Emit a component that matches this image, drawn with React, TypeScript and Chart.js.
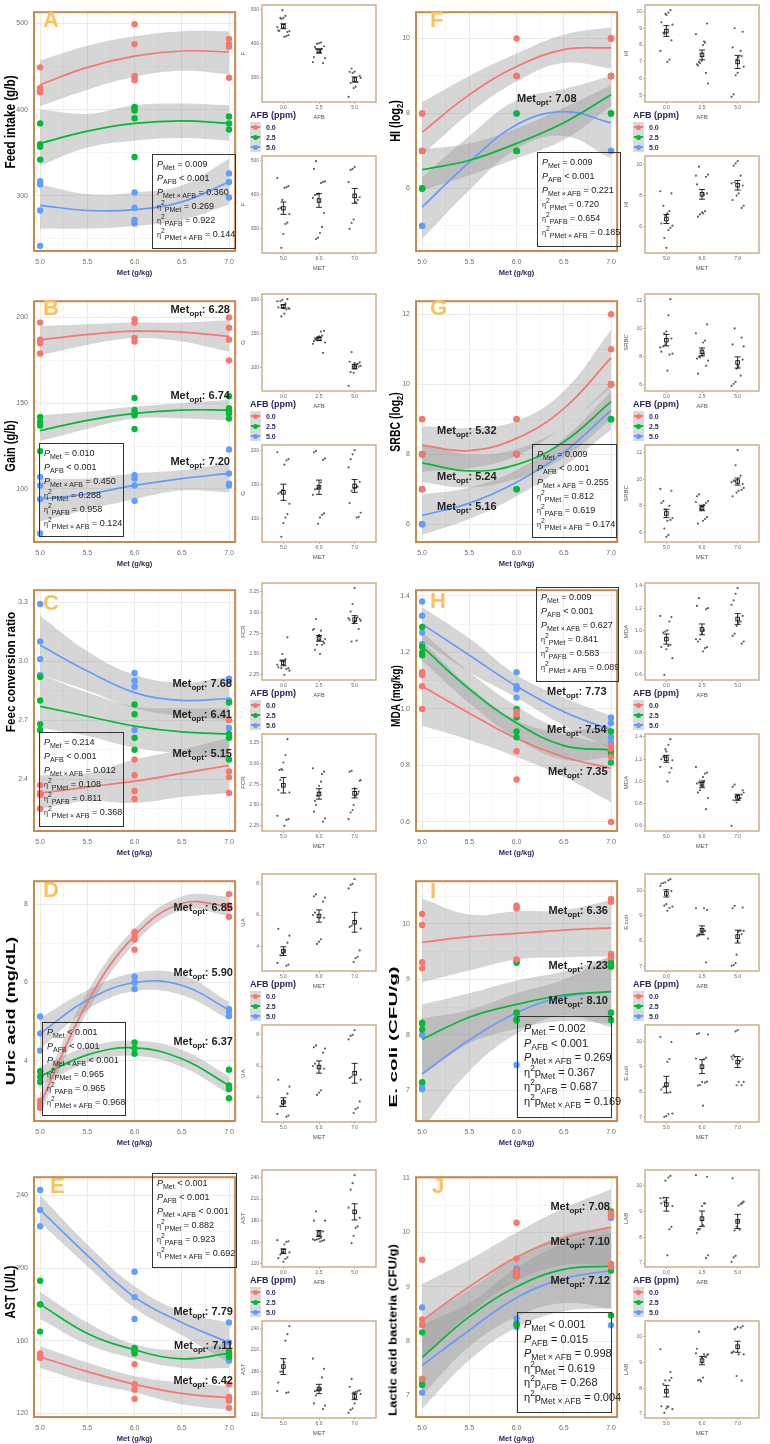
import React, { useEffect, useLayoutEffect, useRef, useState } from 'react';
import { Chart, registerables } from 'chart.js';
Chart.register(...registerables);

const FONT = '"Liberation Sans", Arial, Helvetica, sans-serif';
const COLORS = ['#F8766D', '#00BA38', '#619CFF'];
const BAND = 'rgba(153,153,153,0.4)';
const FRAME = '#C58A4C';
const SIDE_FRAME = '#CDB08A';
const NAVY = '#2A2860';
const TICK_C = '#707070';
const GRID_MAJ = '#EAEAEA';
const GRID_MIN = '#F5F5F5';
const LETTER_C = '#F9C25C';

const MET = [5, 6, 7];
const MET_LABELS = ['5.0', '6.0', '7.0'];
const AFB_LEVELS = ['0.0', '2.5', '5.0'];
const CURVE_X = [5, 5.5, 6, 6.5, 7];
const X_MAJOR = [5, 5.5, 6, 6.5, 7];
const X_ALL = [5, 5.25, 5.5, 5.75, 6, 6.25, 6.5, 6.75, 7];

// ---------- A: Feed intake ----------
const A_PTS = [
  [[449, 425, 422, 420], [499, 476, 439, 437, 434], [482, 476, 473, 437]],
  [[384, 360, 357, 342], [403, 401, 399, 390, 345], [392, 384, 377]],
  [[317, 313, 283, 242], [304, 286, 272, 268], [326, 316, 298]],
];
const A_FIT = [[429, 449, 462, 468, 467], [361, 375, 384, 387, 384], [289, 283, 284, 293, 316]];
const A_HI = [[457, 474, 485, 491, 491], [400, 395, 405, 407, 405], [313, 302, 304, 312, 343]];
const A_LO = [[404, 423, 438, 445, 441], [335, 356, 364, 367, 364], [262, 262, 265, 272, 290]];
const A_YTICKS = [300, 400, 500];
const A_STATS = ['= 0.009', '< 0.001', '= 0.360', '= 0.269', '= 0.922', '= 0.144'];

// ---------- B: Gain ----------
const B_PTS = [
  [[197, 187, 185, 179], [199, 197, 188, 186], [200, 194, 187, 175]],
  [[142, 139, 137, 122], [153, 146, 144, 143, 135], [154, 147, 145, 144, 141]],
  [[107, 102, 94, 74], [108, 106, 102, 93], [123, 109, 103, 102]],
];
const B_FIT = [[187, 190, 192, 191.5, 189], [134, 140, 144, 146, 146], [94, 97, 102, 106, 109]];
const B_HI = [[195, 196, 197, 197, 198.5], [143, 145, 148, 150, 152], [106, 106, 109, 111, 115]];
const B_LO = [[178, 184, 188, 186, 180], [128, 135, 141, 141, 140], [81, 88, 94, 99, 98]];
const B_YTICKS = [100, 150, 200];
const B_STATS = ['= 0.010', '< 0.001', '= 0.450', '= 0.288', '= 0.958', '= 0.124'];

// ---------- C: Feed conversion ratio ----------
const C_PTS = [
  [[2.37, 2.33, 2.32, 2.25], [2.5, 2.42, 2.34, 2.3], [2.7, 2.44, 2.41, 2.33]],
  [[2.92, 2.8, 2.68, 2.65], [2.78, 2.73, 2.61, 2.55], [2.79, 2.63, 2.61, 2.5]],
  [[3.29, 3.1, 3.01, 2.93, 2.92], [2.94, 2.9, 2.87, 2.65], [2.91, 2.9, 2.8, 2.66]],
];
const C_FIT = [[2.33, 2.36, 2.39, 2.43, 2.47], [2.77, 2.72, 2.67, 2.64, 2.63], [3.08, 2.95, 2.84, 2.8, 2.81]];
const C_HI = [[2.42, 2.43, 2.5, 2.55, 2.61], [2.93, 2.84, 2.77, 2.76, 2.76], [3.23, 3.05, 2.93, 2.89, 2.92]];
const C_LO = [[2.25, 2.29, 2.28, 2.31, 2.33], [2.66, 2.62, 2.56, 2.53, 2.5], [2.93, 2.85, 2.76, 2.72, 2.7]];
const C_YTICKS = [2.4, 2.7, 3.0, 3.3];
const C_STATS = ['= 0.214', '< 0.001', '= 0.012', '= 0.108', '= 0.811', '= 0.368'];

// ---------- D: Uric acid ----------
const D_PTS = [
  [[2.98, 2.88, 2.8], [7.3, 7.18, 7.1, 6.84], [8.26, 7.97, 7.9, 7.68]],
  [[3.73, 3.59, 3.46], [4.47, 4.32, 4.18], [3.77, 3.37, 3.28, 3.04]],
  [[5.13, 4.7, 4.26], [6.15, 6.0, 5.83], [5.32, 5.25, 5.14]],
];
const D_FIT = [[2.88, 5.49, 7.2, 8.02, 7.95], [3.6, 4.15, 4.33, 4.05, 3.37], [4.7, 5.55, 6.0, 5.93, 5.3]];
const D_HI = [[3.15, 5.75, 7.38, 8.2, 8.2], [3.85, 4.35, 4.51, 4.28, 3.6], [5.09, 5.8, 6.25, 6.2, 5.5]];
const D_LO = [[2.62, 5.25, 7.0, 7.85, 7.7], [3.36, 3.95, 4.12, 3.84, 3.15], [4.31, 5.3, 5.78, 5.68, 5.05]];
const D_YTICKS = [4, 6, 8];
const D_STATS = ['< 0.001', '< 0.001', '< 0.001', '= 0.965', '= 0.965', '= 0.968'];

// ---------- E: AST ----------
const E_PTS = [
  [[153, 151.5, 150.5], [147, 136, 133, 128], [136, 129, 127, 123]],
  [[193, 180, 180, 165], [156, 155, 154, 153], [154, 153, 152, 151]],
  [[243, 232, 223], [198, 184, 172], [170, 159, 149]],
];
const E_FIT = [[151, 143, 136, 131, 128.5], [180, 164, 155, 150, 153], [232, 207, 184, 170, 159]];
const E_HI = [[157, 148, 140.5, 137, 135], [187, 170, 158, 155, 159], [240, 213, 190, 176, 170]];
const E_LO = [[145, 137, 131.5, 125, 122], [172, 158, 150, 145, 145], [225, 201, 178, 163, 148]];
const E_YTICKS = [120, 160, 200, 240];
const E_STATS = ['< 0.001', '< 0.001', '< 0.001', '= 0.882', '= 0.923', '= 0.692'];

// ---------- F: HI ----------
const F_PTS = [
  [[8, 8, 7, 7], [10, 9, 9, 9], [10, 10, 10, 9]],
  [[7, 7, 6, 6], [8, 7, 7, 7], [9, 9, 8, 8]],
  [[6, 6, 5, 5], [9, 8, 7, 7], [9, 8, 7, 7]],
];
const F_FIT = [[7.5, 8.5, 9.25, 9.7, 9.75], [6.5, 6.75, 7.2, 7.75, 8.5], [5.5, 6.7, 7.7, 8.05, 7.75]];
const F_HI = [[8.3, 9.0, 9.6, 10.1, 10.3], [7.05, 7.2, 7.6, 8.15, 8.75], [6.3, 7.4, 8.35, 8.65, 9.0]];
const F_LO = [[6.9, 8.0, 8.85, 9.35, 9.2], [5.95, 6.35, 6.8, 7.3, 8.2], [4.65, 5.95, 7.05, 7.4, 6.8]];
const F_YTICKS = [6, 8, 10];
const F_STATS = ['= 0.009', '< 0.001', '= 0.221', '= 0.720', '= 0.654', '= 0.185'];

// ---------- G: SRBC ----------
const G_PTS = [
  [[9, 9, 8, 7], [9, 9, 8, 8], [12, 11, 10, 10]],
  [[8, 8, 8, 7], [8, 8, 8, 7], [10, 10, 9, 9]],
  [[7, 6, 6, 6], [8, 7, 7, 7], [10, 9, 9, 9]],
];
const G_FIT = [[8.25, 8.1, 8.45, 9.3, 10.75], [7.75, 7.52, 7.7, 8.35, 9.5], [6.25, 6.6, 7.2, 8.05, 9.25]];
const G_HI = [[8.8, 8.75, 8.95, 9.8, 11.55], [8.3, 8.0, 8.15, 8.8, 10.0], [6.85, 7.05, 7.55, 8.45, 9.8]];
const G_LO = [[7.5, 7.6, 7.95, 8.8, 9.9], [7.2, 7.05, 7.3, 7.9, 9.0], [5.7, 6.15, 6.8, 7.65, 8.7]];
const G_YTICKS = [6, 8, 10, 12];
const G_STATS = ['= 0.009', '< 0.001', '= 0.255', '= 0.812', '= 0.619', '= 0.174'];

// ---------- H: MDA ----------
const H_PTS = [
  [[1.13, 1.12, 1.08, 1.0], [0.99, 0.98, 0.85, 0.75], [0.87, 0.86, 0.83, 0.6]],
  [[1.29, 1.22, 1.2, 1.19], [1.0, 0.97, 0.92, 0.9], [0.92, 0.85, 0.84, 0.81]],
  [[1.38, 1.33, 1.27, 1.23], [1.13, 1.08, 1.07, 1.04], [0.97, 0.95, 0.9, 0.88]],
];
const H_FIT = [[1.08, 0.985, 0.895, 0.83, 0.79], [1.22, 1.07, 0.95, 0.87, 0.855], [1.3, 1.19, 1.08, 0.99, 0.925]];
const H_HI = [[1.24, 1.08, 0.96, 0.91, 0.87], [1.27, 1.13, 1.01, 0.93, 0.94], [1.36, 1.25, 1.12, 1.04, 0.975]];
const H_LO = [[0.94, 0.89, 0.83, 0.76, 0.67], [1.17, 1.02, 0.895, 0.82, 0.83], [1.24, 1.13, 1.04, 0.94, 0.86]];
const H_YTICKS = [0.6, 0.8, 1.0, 1.2, 1.4];
const H_STATS = ['= 0.009', '< 0.001', '= 0.627', '= 0.841', '= 0.583', '= 0.089'];

// ---------- I: E. coli ----------
const I_PTS = [
  [[10.18, 9.98, 9.31, 9.2], [10.33, 10.3, 10.28, 9.36], [10.45, 10.4, 9.46, 9.4]],
  [[8.22, 8.2, 8.1, 7.15], [9.3, 8.4, 8.28, 8.26], [9.3, 9.23, 8.4, 8.27]],
  [[8.0, 7.13, 7.05, 7.02], [9.33, 8.41, 8.37, 7.46], [9.39, 9.3, 8.4, 8.27]],
];
const I_FIT = [[9.67, 9.77, 9.83, 9.89, 9.93], [7.92, 8.32, 8.55, 8.72, 8.78], [7.3, 7.91, 8.4, 8.69, 8.78]];
const I_HI = [[10.46, 10.17, 10.23, 10.25, 10.43], [8.55, 8.75, 8.98, 9.15, 9.42], [8.3, 8.45, 8.75, 9.0, 9.42]];
const I_LO = [[8.95, 9.16, 9.36, 9.4, 9.42], [7.27, 7.85, 8.11, 8.25, 8.2], [6.3, 7.35, 8.02, 8.35, 8.14]];
const I_YTICKS = [7, 8, 9, 10];
const I_STATS = ['= 0.002', '< 0.001', '= 0.269', '= 0.367', '= 0.687', '= 0.169'];

// ---------- J: Lactic acid bacteria ----------
const J_PTS = [
  [[9.5, 8.4, 8.3, 7.3], [10.18, 9.52, 9.3, 9.2], [10.36, 10.3, 9.42, 9.37]],
  [[8.3, 8.16, 7.3, 7.19], [9.3, 9.2, 8.32, 8.3], [10.39, 10.33, 9.3, 8.47]],
  [[8.62, 7.28, 7.22, 7.05], [9.34, 9.28, 9.22, 8.41, 8.26], [10.27, 9.37, 9.3, 8.29]],
];
const J_FIT = [[8.38, 9.0, 9.55, 9.9, 10.1], [7.7, 8.45, 9.0, 9.32, 9.38], [7.55, 8.2, 8.8, 9.15, 9.3]];
const J_HI = [[9.05, 9.5, 10.0, 10.45, 10.8], [8.4, 8.95, 9.55, 9.95, 10.1], [8.3, 8.7, 9.35, 9.8, 10.0]];
const J_LO = [[7.7, 8.5, 9.1, 9.4, 9.4], [7.0, 7.9, 8.45, 8.7, 8.6], [6.75, 7.65, 8.25, 8.55, 8.6]];
const J_YTICKS = [7, 8, 9, 10, 11];
const J_STATS = ['< 0.001', '= 0.015', '= 0.998', '= 0.619', '= 0.268', '= 0.004'];

// ---------- layout ----------
const COLS = [
  { mainL: 34, mainR: 238, sideL: 262, sideR: 378 },
  { mainL: 416, mainR: 620, sideL: 645, sideR: 761 },
];
const ROWS = [
  { top: 5, bot: 251 },
  { top: 294, bot: 542 },
  { top: 583, bot: 831 },
  { top: 874, bot: 1121 },
  { top: 1170, bot: 1417 },
];
const SIDE_ROWS = ROWS.map((r) => ({ t1: r.top - 2, b1: r.top + 97, t2: r.top + 149, b2: r.top + 248, leg: r.top + 110 }));

type Opt = { t: string; x: number; y: number; align: 'left' | 'right' };
type PanelDef = {
  letter: string; col: number; row: number; letterPos: [number, number];
  yTitle: any; yTitleSize: number; yTitleLen: number; yTitleCx: number; yTitleCy: number;
  yMin: number; yMax: number; yTicks: number[]; yDec: number;
  pts: number[][][]; fit: number[][]; lo: number[][]; hi: number[][];
  sideName: string; sideTopTicks: number[]; sideBotTicks: number[]; sideDec: number; sideTopByMet?: boolean; sideYJit?: number;
  stats: string[]; statsBox: [number, number, number, number]; statsBig?: boolean;
  opt: Opt[];
};

const log2 = (s: string) => (<>{s} (log<span style={{ fontSize: '0.7em', position: 'relative', top: '0.3em' }}>2</span>)</>);

const PANELS: PanelDef[] = [
  { letter: 'A', col: 0, row: 0, letterPos: [43, 12], yTitle: 'Feed intake (g/b)', yTitleSize: 14, yTitleLen: 93, yTitleCx: 10, yTitleCy: 122,
    yMin: 236, yMax: 513, yTicks: A_YTICKS, yDec: 0, pts: A_PTS, fit: A_FIT, lo: A_LO, hi: A_HI,
    sideName: 'F', sideTopTicks: [300, 400, 500], sideBotTicks: [300, 400, 500], sideDec: 0,
    stats: A_STATS, statsBox: [152, 154, 84, 95], opt: [] },
  { letter: 'B', col: 0, row: 1, letterPos: [43, 300], yTitle: 'Gain (g/b)', yTitleSize: 14, yTitleLen: 51, yTitleCx: 10, yTitleCy: 446,
    yMin: 69, yMax: 209.5, yTicks: B_YTICKS, yDec: 0, pts: B_PTS, fit: B_FIT, lo: B_LO, hi: B_HI,
    sideName: 'G', sideTopTicks: [100, 150, 200], sideBotTicks: [100, 150, 200], sideDec: 0,
    stats: B_STATS, statsBox: [39, 443, 85, 94],
    opt: [{ t: '6.28', x: 230, y: 311, align: 'right' }, { t: '6.74', x: 230, y: 397, align: 'right' }, { t: '7.20', x: 230, y: 463, align: 'right' }] },
  { letter: 'C', col: 0, row: 2, letterPos: [43, 595], yTitle: 'Feec conversion ratio', yTitleSize: 13, yTitleLen: 120, yTitleCx: 10, yTitleCy: 672,
    yMin: 2.137, yMax: 3.36, yTicks: C_YTICKS, yDec: 1, pts: C_PTS, fit: C_FIT, lo: C_LO, hi: C_HI,
    sideName: 'FCR', sideTopTicks: [2.25, 2.5, 2.75, 3.0, 3.25], sideBotTicks: [2.25, 2.5, 2.75, 3.0, 3.25], sideDec: 2,
    stats: C_STATS, statsBox: [39, 732, 85, 95],
    opt: [{ t: '7.68', x: 232, y: 685, align: 'right' }, { t: '6.41', x: 232, y: 716, align: 'right' }, { t: '5.15', x: 232, y: 755, align: 'right' }] },
  { letter: 'D', col: 0, row: 3, letterPos: [43, 882], yTitle: 'Uric acid (mg/dL)', yTitleSize: 13, yTitleLen: 148, yTitleCx: 10, yTitleCy: 1011,
    yMin: 2.46, yMax: 8.59, yTicks: D_YTICKS, yDec: 0, pts: D_PTS, fit: D_FIT, lo: D_LO, hi: D_HI,
    sideName: 'UA', sideTopTicks: [4, 6, 8], sideBotTicks: [4, 6, 8], sideDec: 0, sideTopByMet: true,
    stats: D_STATS, statsBox: [42, 1022, 84, 94],
    opt: [{ t: '6.85', x: 233, y: 909, align: 'right' }, { t: '5.90', x: 233, y: 974, align: 'right' }, { t: '6.37', x: 233, y: 1043, align: 'right' }] },
  { letter: 'E', col: 0, row: 4, letterPos: [50, 1178], yTitle: 'AST (U/L)', yTitleSize: 14, yTitleLen: 53, yTitleCx: 10, yTitleCy: 1292,
    yMin: 118, yMax: 250, yTicks: E_YTICKS, yDec: 0, pts: E_PTS, fit: E_FIT, lo: E_LO, hi: E_HI,
    sideName: 'AST', sideTopTicks: [120, 150, 180, 210, 240], sideBotTicks: [120, 150, 180, 210, 240], sideDec: 0,
    stats: E_STATS, statsBox: [152, 1173, 85, 95],
    opt: [{ t: '7.79', x: 233, y: 1313, align: 'right' }, { t: '7.11', x: 233, y: 1347, align: 'right' }, { t: '6.42', x: 233, y: 1382, align: 'right' }] },
  { letter: 'F', col: 1, row: 0, letterPos: [430, 12], yTitle: log2('HI'), yTitleSize: 14, yTitleLen: 42, yTitleCx: 395, yTitleCy: 121,
    yMin: 4.33, yMax: 10.7, yTicks: F_YTICKS, yDec: 0, pts: F_PTS, fit: F_FIT, lo: F_LO, hi: F_HI,
    sideName: 'HI', sideTopTicks: [5, 6, 7, 8, 9, 10], sideBotTicks: [6, 8, 10], sideDec: 0, sideYJit: 0.7,
    stats: F_STATS, statsBox: [537, 152, 84, 95],
    opt: [{ t: '7.08', x: 517, y: 100, align: 'left' }] },
  { letter: 'G', col: 1, row: 1, letterPos: [430, 300], yTitle: log2('SRBC'), yTitleSize: 14, yTitleLen: 59, yTitleCx: 395, yTitleCy: 422,
    yMin: 5.49, yMax: 12.37, yTicks: G_YTICKS, yDec: 0, pts: G_PTS, fit: G_FIT, lo: G_LO, hi: G_HI,
    sideName: 'SRBC', sideTopTicks: [6, 8, 10, 12], sideBotTicks: [6, 8, 10, 12], sideDec: 0, sideYJit: 0.7,
    stats: G_STATS, statsBox: [532, 444, 85, 94],
    opt: [{ t: '5.32', x: 437, y: 432, align: 'left' }, { t: '5.24', x: 437, y: 478, align: 'left' }, { t: '5.16', x: 437, y: 508, align: 'left' }] },
  { letter: 'H', col: 1, row: 2, letterPos: [430, 593], yTitle: 'MDA (mg/kg)', yTitleSize: 13, yTitleLen: 62, yTitleCx: 395, yTitleCy: 696,
    yMin: 0.568, yMax: 1.42, yTicks: H_YTICKS, yDec: 1, pts: H_PTS, fit: H_FIT, lo: H_LO, hi: H_HI,
    sideName: 'MDA', sideTopTicks: [0.6, 0.8, 1.0, 1.2, 1.4], sideBotTicks: [0.6, 0.8, 1.0, 1.2, 1.4], sideDec: 1,
    stats: H_STATS, statsBox: [536, 587, 83, 95],
    opt: [{ t: '7.73', x: 547, y: 693, align: 'left' }, { t: '7.54', x: 547, y: 731, align: 'left' }, { t: '7.35', x: 548, y: 773, align: 'left' }] },
  { letter: 'I', col: 1, row: 3, letterPos: [430, 883], yTitle: 'E. coli (CFU/g)', yTitleSize: 11, yTitleLen: 141, yTitleCx: 393, yTitleCy: 1037,
    yMin: 6.45, yMax: 10.77, yTicks: I_YTICKS, yDec: 0, pts: I_PTS, fit: I_FIT, lo: I_LO, hi: I_HI,
    sideName: 'E.coli', sideTopTicks: [7, 8, 9, 10], sideBotTicks: [7, 8, 9, 10], sideDec: 0,
    stats: I_STATS, statsBox: [517, 1016, 95, 102], statsBig: true,
    opt: [{ t: '6.36', x: 608, y: 912, align: 'right' }, { t: '7.23', x: 608, y: 967, align: 'right' }, { t: '8.10', x: 608, y: 1002, align: 'right' }] },
  { letter: 'J', col: 1, row: 4, letterPos: [432, 1178], yTitle: 'Lactic acid bacteria (CFU/g)', yTitleSize: 11, yTitleLen: 172, yTitleCx: 393, yTitleCy: 1330,
    yMin: 6.6, yMax: 11.02, yTicks: J_YTICKS, yDec: 0, pts: J_PTS, fit: J_FIT, lo: J_LO, hi: J_HI,
    sideName: 'LAB', sideTopTicks: [7, 8, 9, 10], sideBotTicks: [7, 8, 9, 10], sideDec: 0,
    stats: J_STATS, statsBox: [517, 1312, 95, 101], statsBig: true,
    opt: [{ t: '7.08', x: 610, y: 1208, align: 'right' }, { t: '7.10', x: 610, y: 1243, align: 'right' }, { t: '7.12', x: 610, y: 1282, align: 'right' }] },
];

// ---------- helpers ----------
const near = (a: number, b: number) => Math.abs(a - b) < 1e-6;
function withMinors(major: number[], min: number, max: number) {
  const step = major[1] - major[0];
  const out: number[] = [];
  for (let k = -1; k <= (major.length - 1) * 2 + 1; k++) {
    const v = Math.round((major[0] + (k * step) / 2) * 1e6) / 1e6;
    if (v >= min && v <= max) out.push(v);
  }
  return out;
}
const jitter = (i: number) => ((((i * 37) % 13) / 12) - 0.5) * 0.34;
const jitterY = (i: number) => ((((i * 53) % 11) / 10) - 0.5);

function frame(color: string, width: number) {
  return {
    id: 'frame',
    afterDraw(ch: any) {
      const a = ch.chartArea; const ctx = ch.ctx;
      ctx.save(); ctx.strokeStyle = color; ctx.lineWidth = width;
      ctx.strokeRect(a.left, a.top, a.right - a.left, a.bottom - a.top);
      ctx.restore();
    },
  };
}

function MainChart({ p }: { p: PanelDef }) {
  const ref = useRef<HTMLCanvasElement>(null);
  const c = COLS[p.col], r = ROWS[p.row];
  const AX_W = 34, AX_H = 27, PAD = 3;
  const left = c.mainL - AX_W, top = r.top - PAD;
  const width = AX_W + (c.mainR - c.mainL) + PAD;
  const height = PAD + (r.bot - r.top) + AX_H;
  useEffect(() => {
    const ds: any[] = [];
    p.pts.forEach((grp, g) => {
      const data: any[] = [];
      grp.forEach((vals, m) => vals.forEach((v) => data.push({ x: MET[m], y: v })));
      ds.push({ type: 'scatter', data, backgroundColor: COLORS[g], borderColor: COLORS[g], pointRadius: 3.2, borderWidth: 0, order: 0 });
    });
    p.fit.forEach((f, g) => ds.push({ type: 'line', data: CURVE_X.map((x, i) => ({ x, y: f[i] })), borderColor: COLORS[g], borderWidth: 1.7, pointRadius: 0, tension: 0.4, fill: false, order: 1 }));
    p.hi.forEach((h, g) => {
      ds.push({ type: 'line', data: CURVE_X.map((x, i) => ({ x, y: h[i] })), borderWidth: 0, borderColor: 'rgba(0,0,0,0)', pointRadius: 0, tension: 0.4, fill: '+1', backgroundColor: BAND, order: 2 });
      ds.push({ type: 'line', data: CURVE_X.map((x, i) => ({ x, y: p.lo[g][i] })), borderWidth: 0, borderColor: 'rgba(0,0,0,0)', pointRadius: 0, tension: 0.4, fill: false, order: 2 });
    });
    const yAll = withMinors(p.yTicks, p.yMin, p.yMax);
    const isMajY = (v: number) => p.yTicks.some((m) => near(m, v));
    const isMajX = (v: number) => X_MAJOR.some((m) => near(m, v));
    const chart = new Chart(ref.current as HTMLCanvasElement, {
      type: 'scatter',
      data: { datasets: ds },
      options: {
        responsive: false, animation: false, devicePixelRatio: 1,
        layout: { padding: { top: PAD, right: PAD, left: 0, bottom: 0 } },
        plugins: { legend: { display: false }, tooltip: { enabled: false } },
        scales: {
          x: {
            type: 'linear', min: 4.935, max: 7.065,
            afterBuildTicks: (s: any) => { s.ticks = X_ALL.map((v) => ({ value: v })); },
            afterFit: (s: any) => { s.height = AX_H; },
            grid: { color: (ctx: any) => (isMajX(ctx.tick?.value) ? GRID_MAJ : GRID_MIN), drawTicks: false, lineWidth: 1 },
            border: { display: false },
            ticks: { callback: (v: any) => (isMajX(Number(v)) ? Number(v).toFixed(1) : ''), color: TICK_C, font: { size: 7, family: FONT }, padding: 7, maxRotation: 0, autoSkip: false },
            title: { display: true, text: 'Met (g/kg)', color: NAVY, font: { size: 7.5, weight: 'bold', family: FONT }, padding: { top: 0, bottom: 1 } },
          },
          y: {
            type: 'linear', min: p.yMin, max: p.yMax,
            afterBuildTicks: (s: any) => { s.ticks = yAll.map((v) => ({ value: v })); },
            afterFit: (s: any) => { s.width = AX_W; },
            grid: { color: (ctx: any) => (isMajY(ctx.tick?.value) ? GRID_MAJ : GRID_MIN), drawTicks: false, lineWidth: 1 },
            border: { display: false },
            ticks: { callback: (v: any) => (isMajY(Number(v)) ? Number(v).toFixed(p.yDec) : ''), color: TICK_C, font: { size: 7, family: FONT }, padding: 6, autoSkip: false },
          },
        },
      } as any,
      plugins: [frame(FRAME, 2)],
    });
    return () => chart.destroy();
  }, []);
  return <canvas ref={ref} width={width} height={height} style={{ position: 'absolute', left, top, width, height }} />;
}

function SideChart({ p, which }: { p: PanelDef; which: number }) {
  const ref = useRef<HTMLCanvasElement>(null);
  const c = COLS[p.col]; const sr = SIDE_ROWS[p.row];
  const t = which === 0 ? sr.t1 : sr.t2; const b = which === 0 ? sr.b1 : sr.b2;
  const AXW = 24, AXH = 19, PAD = 2;
  const left = c.sideL - AXW, top = t - PAD;
  const width = AXW + (c.sideR - c.sideL) + PAD, height = PAD + (b - t) + AXH;
  const byMet = which === 1 || !!p.sideTopByMet;
  useEffect(() => {
    const groups: number[][] = byMet
      ? MET.map((_, m) => p.pts.flatMap((grp) => grp[m]))
      : p.pts.map((grp) => grp.flat());
    const labels = byMet ? MET_LABELS : AFB_LEVELS;
    const yj = p.sideYJit || 0;
    const pts: any[] = [];
    groups.forEach((vals, gi) => vals.forEach((v, i) => pts.push({ x: gi + 1 + jitter(i + gi * 5), y: v + yj * jitterY(i + gi * 3 + which) })));
    const all = pts.map((q) => q.y);
    const lo = Math.min(...all), hi = Math.max(...all), pad = (hi - lo) * 0.06;
    const st = groups.map((vals) => {
      const n = vals.length; const m = vals.reduce((a, b2) => a + b2, 0) / n;
      const sd = Math.sqrt(vals.reduce((a, b2) => a + (b2 - m) ** 2, 0) / (n - 1));
      return { m, se: sd / Math.sqrt(n) };
    });
    const ticks = (which === 0 ? p.sideTopTicks : p.sideBotTicks).filter((v) => v >= lo - pad && v <= hi + pad);
    const chart = new Chart(ref.current as HTMLCanvasElement, {
      type: 'scatter',
      data: { datasets: [{ data: pts, pointRadius: 1.1, backgroundColor: '#606060', borderWidth: 0 }] },
      options: {
        responsive: false, animation: false, devicePixelRatio: 1,
        layout: { padding: { top: PAD, right: PAD, left: 0, bottom: 0 } },
        plugins: { legend: { display: false }, tooltip: { enabled: false } },
        scales: {
          x: {
            type: 'linear', min: 0.4, max: 3.6,
            afterBuildTicks: (s: any) => { s.ticks = [1, 2, 3].map((v) => ({ value: v })); },
            afterFit: (s: any) => { s.height = AXH; },
            grid: { drawOnChartArea: false, drawTicks: true, tickLength: 2, color: '#888', lineWidth: 0.6 },
            border: { display: false },
            ticks: { callback: (v: any) => labels[Math.round(Number(v)) - 1], font: { size: 5, family: FONT }, color: '#666', padding: 1, maxRotation: 0, autoSkip: false },
            title: { display: true, text: byMet ? 'MET' : 'AFB', font: { size: 6, family: FONT }, color: '#555', padding: { top: 0, bottom: 0 } },
          },
          y: {
            type: 'linear', min: lo - pad, max: hi + pad,
            afterBuildTicks: (s: any) => { s.ticks = ticks.map((v) => ({ value: v })); },
            afterFit: (s: any) => { s.width = AXW; },
            grid: { drawOnChartArea: false, drawTicks: true, tickLength: 2, color: '#888', lineWidth: 0.6 },
            border: { display: false },
            ticks: { callback: (v: any) => Number(v).toFixed(p.sideDec), font: { size: 5, family: FONT }, color: '#666', padding: 1, autoSkip: false },
            title: { display: true, text: p.sideName, font: { size: 6, family: FONT }, color: '#555', padding: { top: 1.5, bottom: 0 } },
          },
        },
      } as any,
      plugins: [
        {
          id: 'meanse',
          afterDatasetsDraw(ch: any) {
            const xs = ch.scales.x, ys = ch.scales.y, ctx = ch.ctx;
            ctx.save(); ctx.strokeStyle = '#111'; ctx.lineWidth = 0.9;
            st.forEach((s, gi) => {
              const px = xs.getPixelForValue(gi + 1);
              const y1 = ys.getPixelForValue(s.m + s.se), y2 = ys.getPixelForValue(s.m - s.se), ym = ys.getPixelForValue(s.m);
              ctx.beginPath();
              ctx.moveTo(px, y1); ctx.lineTo(px, y2);
              ctx.moveTo(px - 3, y1); ctx.lineTo(px + 3, y1);
              ctx.moveTo(px - 3, y2); ctx.lineTo(px + 3, y2);
              ctx.stroke();
              ctx.strokeRect(px - 1.8, ym - 1.8, 3.6, 3.6);
            });
            ctx.restore();
          },
        },
        frame(SIDE_FRAME, 1.5),
      ],
    });
    return () => chart.destroy();
  }, []);
  return <canvas ref={ref} width={width} height={height} style={{ position: 'absolute', left, top, width, height }} />;
}

function YTitle({ p }: { p: PanelDef }) {
  const ref = useRef<HTMLDivElement>(null);
  const [sx, setSx] = useState(1);
  useLayoutEffect(() => {
    const w = ref.current ? ref.current.offsetWidth : 0;
    if (w > 0) setSx(p.yTitleLen / w);
  }, []);
  return (
    <div ref={ref} style={{
      position: 'absolute', left: p.yTitleCx, top: p.yTitleCy, whiteSpace: 'nowrap',
      font: `bold ${p.yTitleSize}px ${FONT}`, lineHeight: 1, color: '#000',
      transform: `translate(-50%, -50%) rotate(-90deg) scaleX(${sx})`,
    }}>{p.yTitle}</div>
  );
}

function Legend({ p }: { p: PanelDef }) {
  const c = COLS[p.col]; const sr = SIDE_ROWS[p.row];
  return (
    <div style={{ position: 'absolute', left: c.sideL - 12, top: sr.leg - 6 }}>
      <div style={{ font: `bold 9px ${FONT}`, color: NAVY, lineHeight: '12px', whiteSpace: 'nowrap' }}>AFB (ppm)</div>
      <div style={{ height: 1 }} />
      {AFB_LEVELS.map((l, i) => (
        <div key={l} style={{ display: 'flex', alignItems: 'center', height: 10 }}>
          <div style={{ width: 11, height: 10, background: '#DADADA', position: 'relative' }}>
            <div style={{ position: 'absolute', left: 1, right: 1, top: 4.4, height: 1.3, background: COLORS[i] }} />
            <div style={{ position: 'absolute', left: 3, top: 2.5, width: 5, height: 5, borderRadius: '50%', background: COLORS[i] }} />
          </div>
          <span style={{ marginLeft: 5, font: `bold 7px ${FONT}`, color: NAVY }}>{l}</span>
        </div>
      ))}
    </div>
  );
}

function StatsBox({ p }: { p: PanelDef }) {
  const [x, y, w, h] = p.statsBox;
  const big = !!p.statsBig;
  const fs = big ? 11 : 9; const lh = big ? 14.6 : 14; const padTop = big ? 5 : 4;
  const sub = (t: string) => <span style={{ fontSize: fs * 0.78, position: 'relative', top: fs * 0.3 }}>{t}</span>;
  const sup = (t: string) => <span style={{ fontSize: fs * 0.75, position: 'relative', top: -fs * 0.45 }}>{t}</span>;
  const eta = (s: string) => (big
    ? <>η{sup('2')}p{sub(s)}</>
    : <><span style={{ fontSize: fs * 0.8 }}>η</span>{sup('2')}{sub('P' + s)}</>);
  const labels = [
    <><i>P</i>{sub('Met')}</>,
    <><i>P</i>{sub('AFB')}</>,
    <><i>P</i>{sub('Met × AFB')}</>,
    eta('Met'), eta('AFB'), eta('Met × AFB'),
  ];
  return (
    <div style={{ position: 'absolute', left: x, top: y, width: w, height: h, border: '1.2px solid #333', boxSizing: 'border-box', paddingTop: padTop, paddingLeft: big ? 6 : 4 }}>
      {labels.map((lab, i) => (
        <div key={i} style={{ height: lh, lineHeight: `${lh}px`, font: `${fs}px ${FONT}`, color: '#222', whiteSpace: 'nowrap' }}>
          {lab} {p.stats[i]}
        </div>
      ))}
    </div>
  );
}

function OptLabels({ p }: { p: PanelDef }) {
  return (
    <>
      {p.opt.map((o, i) => (
        <div key={i} style={{
          position: 'absolute', top: o.y - 8, lineHeight: '16px', font: `bold 11px ${FONT}`, color: '#222', whiteSpace: 'nowrap',
          ...(o.align === 'right' ? { right: 770 - o.x } : { left: o.x }),
        }}>
          Met<span style={{ fontSize: 8, position: 'relative', top: 3 }}>opt</span>: {o.t}
        </div>
      ))}
    </>
  );
}

function Panel({ p }: { p: PanelDef }) {
  return (
    <>
      <MainChart p={p} />
      <SideChart p={p} which={0} />
      <SideChart p={p} which={1} />
      <Legend p={p} />
      <StatsBox p={p} />
      <OptLabels p={p} />
      <YTitle p={p} />
      <div style={{ position: 'absolute', left: p.letterPos[0], top: p.letterPos[1] - 3, font: `bold 22px ${FONT}`, lineHeight: '22px', color: LETTER_C }}>{p.letter}</div>
    </>
  );
}

export default function App() {
  return (
    <div style={{ position: 'absolute', left: 0, top: 0, width: 770, height: 1444, background: '#fff', overflow: 'hidden', fontFamily: FONT }}>
      {PANELS.map((p) => <Panel key={p.letter} p={p} />)}
    </div>
  );
}
